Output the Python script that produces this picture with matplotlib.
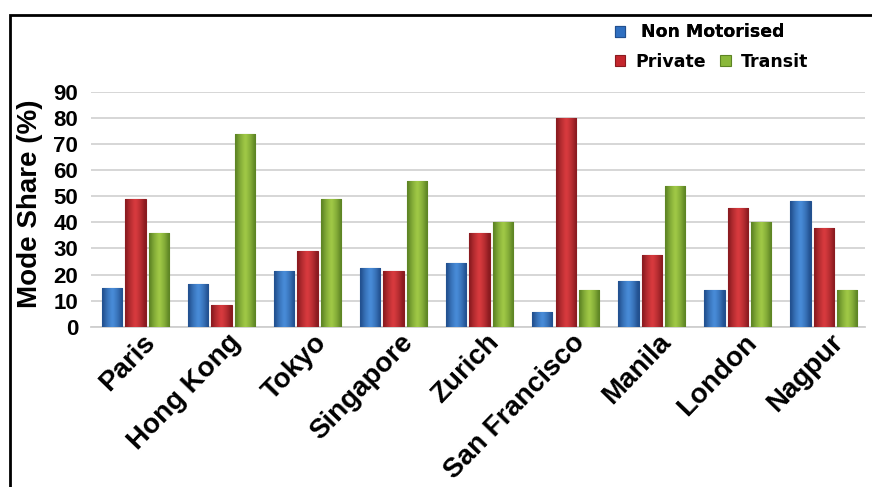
import numpy as np
import matplotlib
matplotlib.use("Agg")
import matplotlib.pyplot as plt
import matplotlib.transforms as mtransforms
from matplotlib.colors import LinearSegmentedColormap
from matplotlib.patches import Rectangle

plt.rcParams['font.family'] = ['Liberation Sans', 'DejaVu Sans']

cities = ['Paris', 'Hong Kong', 'Tokyo', 'Singapore', 'Zurich',
          'San Francisco', 'Manila', 'London', 'Nagpur']
non_motorised = [15, 16.5, 21.5, 22.5, 24.5, 5.5, 17.5, 14, 48]
private = [49, 8.5, 29, 21.5, 36, 80, 27.5, 45.5, 38]
transit = [36, 74, 49, 56, 40, 14, 54, 40, 14]
yticks = [0, 10, 20, 30, 40, 50, 60, 70, 80, 90]

colors = ['#2f6fc0', '#c4262d', '#8ab83a']
dark = ['#22508f', '#8a1b20', '#5d8424']
light = ['#4a8fdc', '#dc3c40', '#a3cc48']

fig = plt.figure(figsize=(8.72, 4.87), dpi=100)
ax = fig.add_axes([0.104, 0.329, 0.888, 0.4825])

x = np.arange(len(cities))
width = 0.235
step = 0.27
series = [non_motorised, private, transit]
labels = ['Non Motorised', 'Private', 'Transit']
handles = []
grad = np.array([[0.0, 0.35, 0.6, 0.8, 1.0, 0.8, 0.6, 0.35, 0.0]])
for i, (vals, lab) in enumerate(zip(series, labels)):
    b = ax.bar(x + (i - 1) * step, vals, width, color=colors[i],
               edgecolor=dark[i], linewidth=0.8, label=lab, zorder=3)
    handles.append(b)
    cmap = LinearSegmentedColormap.from_list('g%d' % i, [dark[i], light[i]])
    # shaded fill inside each bar to mimic the cylinder look
    for rect in b:
        bx, bw, bh = rect.get_x(), rect.get_width(), rect.get_height()
        im = ax.imshow(grad, cmap=cmap, aspect='auto', interpolation='bicubic',
                       extent=(bx, bx + bw, 0, bh), zorder=3.5, vmin=0, vmax=1)
        im.set_clip_path(rect)

ax.set_xlim(-0.52, 8.48)
ax.set_ylim(0, 90)
ax.set_yticks(yticks)
ax.yaxis.grid(True, color='#d3d3d3', linewidth=1.3, zorder=0)
ax.set_axisbelow(True)
for s in ['top', 'right', 'left']:
    ax.spines[s].set_visible(False)
ax.spines['bottom'].set_color('#cfcfcf')
ax.spines['bottom'].set_linewidth(1.3)
ax.tick_params(axis='y', length=0, pad=9)
ax.tick_params(axis='x', length=0, pad=2)
ax.set_yticklabels([str(t) for t in yticks], fontsize=16, fontweight='bold')
ax.set_xticks(x)
ax.set_xticklabels(cities, rotation=46, ha='right', va='top',
                   rotation_mode='anchor', fontsize=20, fontweight='bold')
shift = mtransforms.ScaledTranslation(6 / 100, 0, fig.dpi_scale_trans)
for t in ax.get_xticklabels():
    t.set_transform(t.get_transform() + shift)
ax.set_ylabel('Mode Share (%)', fontsize=20, fontweight='bold')
ax.yaxis.set_label_coords(-0.062, 0.524)

# legend: one entry on top row, two on the second
lprop = {'family': 'DejaVu Sans', 'weight': 'bold', 'size': 12.5}
leg1 = fig.legend([handles[0]], [labels[0]], loc='upper left',
                  bbox_to_anchor=(0.705, 0.952), frameon=False, prop=lprop,
                  handlelength=0.6, handleheight=0.6, handletextpad=0.9,
                  borderaxespad=0, borderpad=0)
leg2 = fig.legend(handles[1:], labels[1:], loc='upper left', ncol=2,
                  bbox_to_anchor=(0.705, 0.892), frameon=False, prop=lprop,
                  handlelength=0.6, handleheight=0.6, handletextpad=0.6,
                  columnspacing=0.8, borderaxespad=0, borderpad=0)
fig.add_artist(leg1)

# outer frame
fig.patches.append(Rectangle((10 / 872, -0.05), 1.0, 1 - 15 / 487 + 0.05,
                             transform=fig.transFigure, fill=False,
                             edgecolor='black', linewidth=2))

fig.savefig('out.png', dpi=100, facecolor='white')
